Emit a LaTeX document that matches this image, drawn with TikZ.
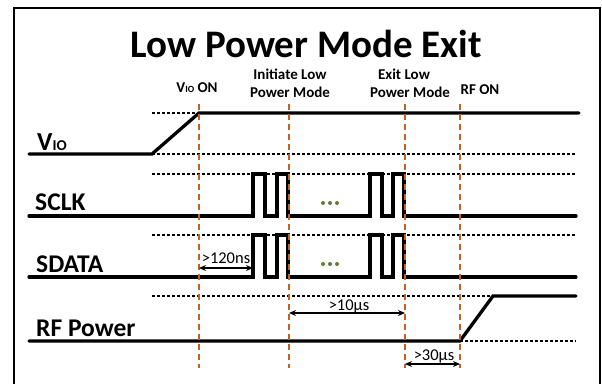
\documentclass[tikz,border=0pt]{standalone}
\usepackage{fontspec}
\setmainfont{Carlito}
\usetikzlibrary{arrows.meta}
\definecolor{guidecol}{RGB}{197,96,36}
\definecolor{dotgreen}{RGB}{95,125,55}
\begin{document}
\begin{tikzpicture}[x=1pt,y=-1pt,
  sig/.style={line width=3.3pt, line cap=round, line join=miter},
  refline/.style={line width=1.3pt, dash pattern=on 3pt off 2pt},
  guide/.style={draw=guidecol, line width=1.5pt, dash pattern=on 6pt off 4pt},
  meas/.style={{Stealth[length=7pt,width=6pt]}-{Stealth[length=7pt,width=6pt]}, line width=1.4pt},
  siglabel/.style={anchor=base west, inner sep=0pt, font=\fontsize{25.5}{25.5}\selectfont\bfseries},
  toplabel/.style={anchor=base, inner sep=0pt, font=\fontsize{15}{15}\selectfont\bfseries},
  measlabel/.style={anchor=base, inner sep=0pt, font=\fontsize{16.5}{16.5}\selectfont},
  dot/.style={circle, fill=dotgreen, inner sep=0pt, minimum size=4pt}
]
\useasboundingbox (0,0) rectangle (602,383);
\clip (0,0) rectangle (602,383);
\fill[white] (0,0) rectangle (602,383);
\draw[line width=1.3pt] (14,8) rectangle (600,392);

% title
\node[anchor=base, inner sep=0pt, font=\fontsize{39}{39}\selectfont\bfseries] (title) at (306,57) {Low Power Mode Exit};

% top labels
\node[toplabel] (vioon) at (197,92) {V{\fontsize{9.5}{9.5}\selectfont IO} ON};
\node[toplabel] (il1) at (290,79) {Initiate Low};
\node[toplabel] (il2) at (290,97) {Power Mode};
\node[toplabel] (el1) at (404,79) {Exit Low};
\node[toplabel] (el2) at (410,97) {Power Mode};
\node[toplabel] (rfon) at (480,94) {RF ON};

% signal labels
\node[siglabel] (lvio) at (37,150) {\fontsize{26}{26}\selectfont V\fontsize{15}{15}\selectfont IO};
\node[siglabel] (lsclk) at (35,210) {SCLK};
\node[siglabel] (lsdata) at (36,272) {SDATA};
\node[siglabel] (lrf) at (36,336) {RF Power};

% reference dotted levels
\draw[refline] (152,113) -- (199,113);
\draw[refline] (152,154) -- (576,154);
\draw[refline] (152,174) -- (576,174);
\draw[refline] (152,235) -- (576,235);
\draw[refline] (152,296) -- (493,296);
\draw[refline] (460,341) -- (576,341);

% VIO
\draw[sig] (29,154) -- (152,154) -- (199,113) -- (579,113);
% SCLK
\draw[sig] (29,216) -- (253,216) -- (253,174) -- (265,174) -- (265,216) -- (277,216) -- (277,174) -- (288,174) -- (288,216)
  -- (370,216) -- (370,174) -- (382,174) -- (382,216) -- (393,216) -- (393,174) -- (404,174) -- (404,216) -- (576,216);
% SDATA
\draw[sig] (29,277) -- (253,277) -- (253,235) -- (265,235) -- (265,277) -- (277,277) -- (277,235) -- (288,235) -- (288,277)
  -- (370,277) -- (370,235) -- (382,235) -- (382,277) -- (393,277) -- (393,235) -- (404,235) -- (404,277) -- (576,277);
% RF power
\draw[sig] (29,341) -- (460,341) -- (493,296) -- (576,296);

% dots
\foreach \xx in {323,330,337} {
  \node[dot] at (\xx,203) {};
  \node[dot] at (\xx,264) {};
}

% guide lines
\coordinate (g1t) at (199,104); \coordinate (g1b) at (199,368);
\coordinate (g2t) at (289,104); \coordinate (g2b) at (289,368);
\coordinate (g3t) at (405,104); \coordinate (g3b) at (405,368);
\coordinate (g4t) at (460,104); \coordinate (g4b) at (460,368);
\draw[guide] (g1t) -- (g1b);
\draw[guide] (g2t) -- (g2b);
\draw[guide] (g3t) -- (g3b);
\draw[guide] (g4t) -- (g4b);

% measurements
\coordinate (m1a) at (199,268); \coordinate (m1b) at (253,268);
\draw[meas] (m1a) -- (m1b);
\node[measlabel] (t1) at (226,263) {>120ns};
\coordinate (m2a) at (289,313); \coordinate (m2b) at (405,313);
\draw[meas] (m2a) -- (m2b);
\node[measlabel] (t2) at (349,310) {>10µs};
\coordinate (m3a) at (405,364); \coordinate (m3b) at (460,364);
\draw[meas] (m3a) -- (m3b);
\node[measlabel] (t3) at (434,360) {>30µs};
\end{tikzpicture}
\end{document}
